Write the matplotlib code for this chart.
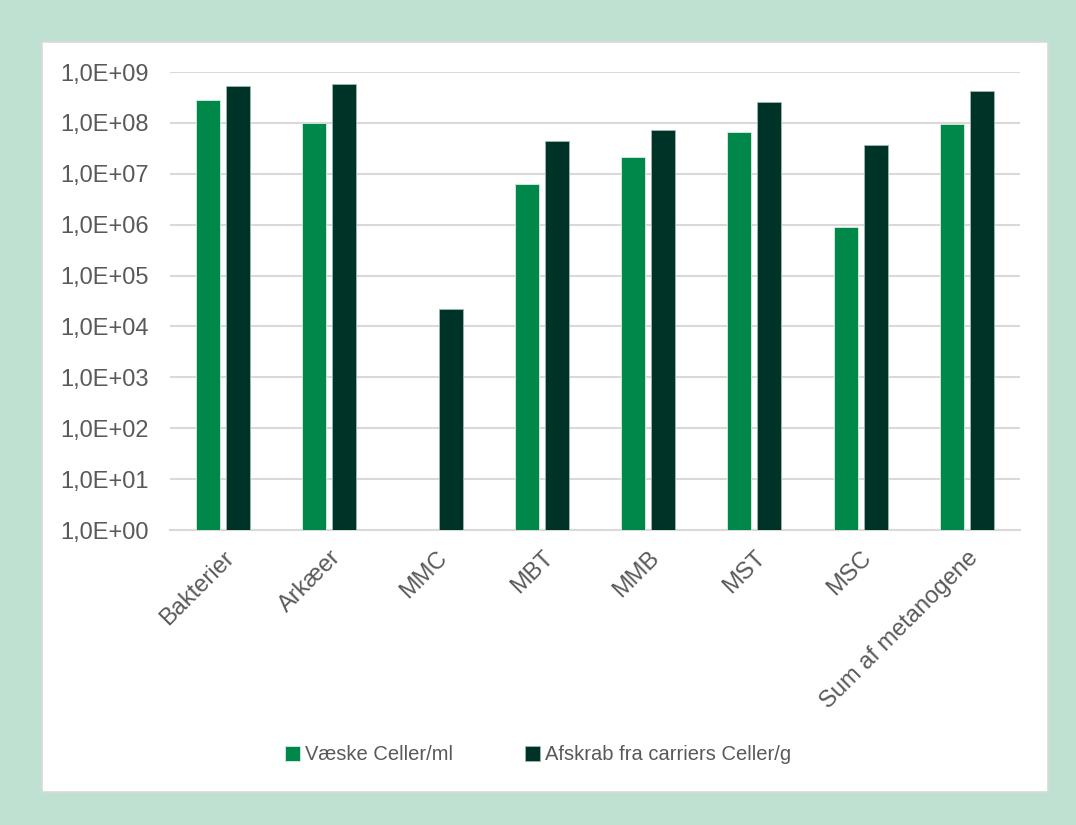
import numpy as np
import matplotlib.pyplot as plt
from matplotlib.ticker import FixedLocator, FuncFormatter

plt.rcParams['font.family'] = ['Liberation Sans', 'DejaVu Sans']

categories = ['Bakterier', 'Arkæer', 'MMC', 'MBT', 'MMB', 'MST', 'MSC', 'Sum af metanogene']
vaeske = [2.8e8, 9.8e7, np.nan, 6.3e6, 2.1e7, 6.6e7, 9.1e5, 9.3e7]
afskrab = [5.2e8, 5.9e8, 2.2e4, 4.4e7, 7.2e7, 2.6e8, 3.7e7, 4.2e8]
labels = ['Væske Celler/ml', 'Afskrab fra carriers Celler/g']

light = '#00874a'
dark = '#003327'
txt = '#595959'

fig = plt.figure(figsize=(10.76, 8.25), dpi=100)
fig.patch.set_facecolor('#bfe1d1')

# white inner panel
bg = fig.add_axes([42 / 1076, 1 - 792 / 825, 1006 / 1076, 750 / 825], zorder=-5)
bg.set_xticks([])
bg.set_yticks([])
bg.set_facecolor('white')
for s in bg.spines.values():
    s.set_color('#d9d9d9')
    s.set_linewidth(1.2)

ax = fig.add_axes([170 / 1076, 1 - 530 / 825, 850 / 1076, 458 / 825])
ax.set_facecolor('none')

x = np.arange(len(categories))
w = 0.226
off = 0.142
ax.bar(x - off, vaeske, w, bottom=1, color=light, edgecolor='#d8eee2', linewidth=0.6,
       label=labels[0], zorder=3)
ax.bar(x + off, afskrab, w, bottom=1, color=dark, edgecolor='#9fb8b0', linewidth=0.6,
       label=labels[1], zorder=3)

ax.set_yscale('log')
ax.set_ylim(1, 1e9)
ax.set_xlim(-0.5, len(categories) - 0.5)
ax.yaxis.set_major_locator(FixedLocator([10.0 ** k for k in range(10)]))
ax.yaxis.set_minor_locator(FixedLocator([]))
ax.yaxis.set_major_formatter(FuncFormatter(lambda v, p: '1,0E+%02d' % int(round(np.log10(v)))))
ax.grid(axis='y', color='#d9d9d9', linewidth=1.5, zorder=0)

for s in ['top', 'right', 'left']:
    ax.spines[s].set_visible(False)
ax.spines['bottom'].set_color('#d9d9d9')
ax.spines['bottom'].set_linewidth(1.5)
ax.tick_params(length=0, labelsize=17, colors=txt)
ax.tick_params(axis='y', pad=15)
ax.tick_params(axis='x', pad=12)
ax.set_xticks(x)
ax.set_xticklabels(categories, rotation=45, ha='right', rotation_mode='anchor')

fig.legend(loc='center', bbox_to_anchor=(0.5, 1 - 755 / 825), ncol=2, frameon=False,
           fontsize=14.5, labelcolor=txt, handlelength=0.75, handleheight=0.75,
           handletextpad=0.25, columnspacing=3.6)

fig.savefig('out.png', dpi=100, facecolor=fig.get_facecolor())
